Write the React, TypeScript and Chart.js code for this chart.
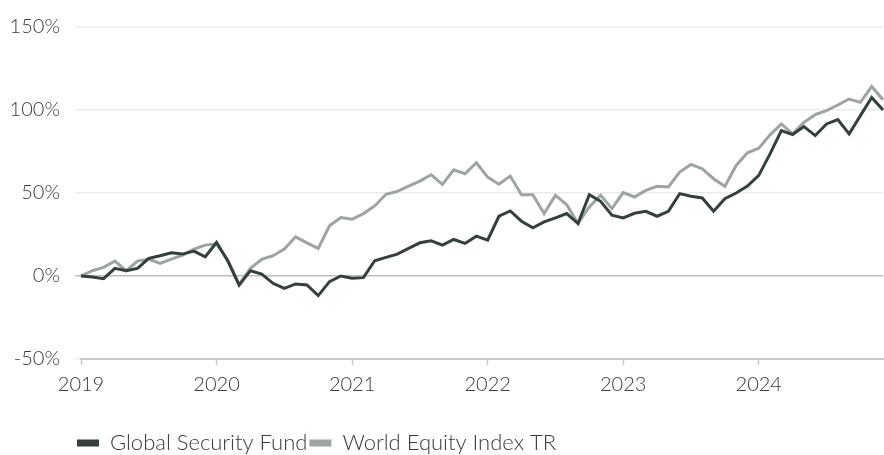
import { useEffect, useRef } from 'react';
import { Chart, registerables } from 'chart.js';

Chart.register(...registerables);

const years = ['2019', '2020', '2021', '2022', '2023', '2024'];
const monthNames = ['Jan', 'Feb', 'Mar', 'Apr', 'May', 'Jun', 'Jul', 'Aug', 'Sep', 'Oct', 'Nov', 'Dec'];
const categories: string[] = years.flatMap((y) => monthNames.map((m) => `${m} ${y}`));

const seriesNames = ['Global Security Fund', 'World Equity Index TR'];

const fundValues = [
  0, -0.6, -1.6, 4.6, 3.2, 4.6, 10.6, 12.2, 14, 13.2, 15, 11.6,
  20.2, 9, -5.5, 3.2, 1.2, -4.4, -7.4, -4.8, -5.4, -11.8, -3.4, 0,
  -1.4, -1, 9.2, 11.2, 13.2, 16.6, 20, 21.2, 18.6, 22, 19.6, 24,
  21.6, 36, 39.2, 33, 29, 32.6, 35, 37.6, 31.6, 49, 45, 36.6,
  35, 37.8, 39, 36, 39, 49.6, 48, 47, 39, 46.6, 50, 54.2,
  60.6, 73.6, 87.6, 85.2, 90, 84.6, 91.6, 94.2, 85.6, 96.6, 107.6, 100,
];

const indexValues = [
  0, 3.2, 5.2, 9, 3.2, 9, 10.2, 7.6, 10.2, 12.6, 16.2, 18.6,
  19.4, 9.5, -5, 4.6, 10, 12.2, 16.2, 23.6, 20, 16.6, 30.2, 35.2,
  34.2, 37.6, 42.2, 49.2, 51, 54.2, 57.2, 61, 55.2, 64, 61.6, 68.2,
  59.6, 55.3, 60.2, 49, 49, 37.6, 48.6, 43, 31.6, 41.6, 48.6, 40.6,
  50.2, 47.6, 51.6, 54, 53.6, 62.6, 67.2, 64.6, 58.6, 54, 66.6, 74.2,
  77, 85, 91.6, 85.6, 92.6, 97.2, 99.6, 103, 106.6, 104.6, 114.2, 106.2,
];

const yTicks = [-50, 0, 50, 100, 150];

const FONT = { family: 'Lato, "DejaVu Sans", sans-serif', size: 20, weight: 300 as any };
const LEGEND_FONT = { family: 'Lato, "DejaVu Sans", sans-serif', size: 22, weight: 300 as any };
const TEXT = '#3a3a3a';
const DARK = '#353f3d';
const GRAY = '#9da4a2';

const legendShift = {
  id: 'legendShift',
  afterLayout(chart: any) {
    if (chart.legend) chart.legend.left = 75;
  },
};

export default function App() {
  const ref = useRef<HTMLCanvasElement>(null);

  useEffect(() => {
    if (!ref.current) return;
    const chart = new Chart(ref.current, {
      type: 'line',
      data: {
        labels: categories,
        datasets: [
          {
            label: seriesNames[0],
            data: fundValues,
            borderColor: DARK,
            backgroundColor: DARK,
            borderWidth: 3,
            pointRadius: 0,
            tension: 0,
          },
          {
            label: seriesNames[1],
            data: indexValues,
            borderColor: GRAY,
            backgroundColor: GRAY,
            borderWidth: 3,
            pointRadius: 0,
            tension: 0,
          },
        ],
      },
      options: {
        animation: false,
        responsive: false,
        layout: { padding: { top: 21, right: 1, bottom: -9, left: 0 } },
        plugins: {
          tooltip: { enabled: false },
          legend: {
            position: 'bottom',
            align: 'start',
            labels: {
              boxWidth: 22,
              boxHeight: 7,
              padding: 2,
              color: TEXT,
              font: LEGEND_FONT,
              generateLabels: (c: any) =>
                Chart.defaults.plugins.legend.labels
                  .generateLabels(c)
                  .map((l: any) => ({ ...l, lineWidth: 0 })),
            },
          },
        },
        scales: {
          x: {
            type: 'category',
            offset: false,
            afterFit: (s: any) => {
              s.height = 71;
            },
            border: { display: true, color: '#c9c9c9', width: 2 },
            grid: {
              drawOnChartArea: false,
              drawTicks: true,
              tickLength: 6,
              tickWidth: 1.5,
              tickColor: (ctx: any) => (ctx.index % 12 === 0 ? '#c9c9c9' : 'rgba(0,0,0,0)'),
            },
            ticks: {
              autoSkip: false,
              maxRotation: 0,
              padding: 0,
              color: TEXT,
              font: { ...FONT, lineHeight: 2 },
              callback: (_v: any, i: number) => (i % 12 === 0 ? years[i / 12] : ''),
            },
          },
          y: {
            min: yTicks[0],
            max: yTicks[yTicks.length - 1],
            afterFit: (s: any) => {
              s.width = 81;
            },
            border: { display: false },
            grid: {
              color: (ctx: any) => (ctx.tick && ctx.tick.value === 0 ? '#bdbdbd' : '#ececec'),
              lineWidth: 1.5,
              tickLength: 6,
            },
            ticks: {
              stepSize: 50,
              padding: 15,
              color: TEXT,
              font: FONT,
              callback: (v: any) => `${v}%`,
            },
          },
        },
      },
      plugins: [legendShift],
    });
    return () => chart.destroy();
  }, []);

  return (
    <div style={{ position: 'absolute', left: 0, top: 0, width: 884, height: 455, overflow: 'hidden', background: '#fff' }}>
      <canvas ref={ref} width={884} height={455} style={{ display: 'block' }} />
    </div>
  );
}
